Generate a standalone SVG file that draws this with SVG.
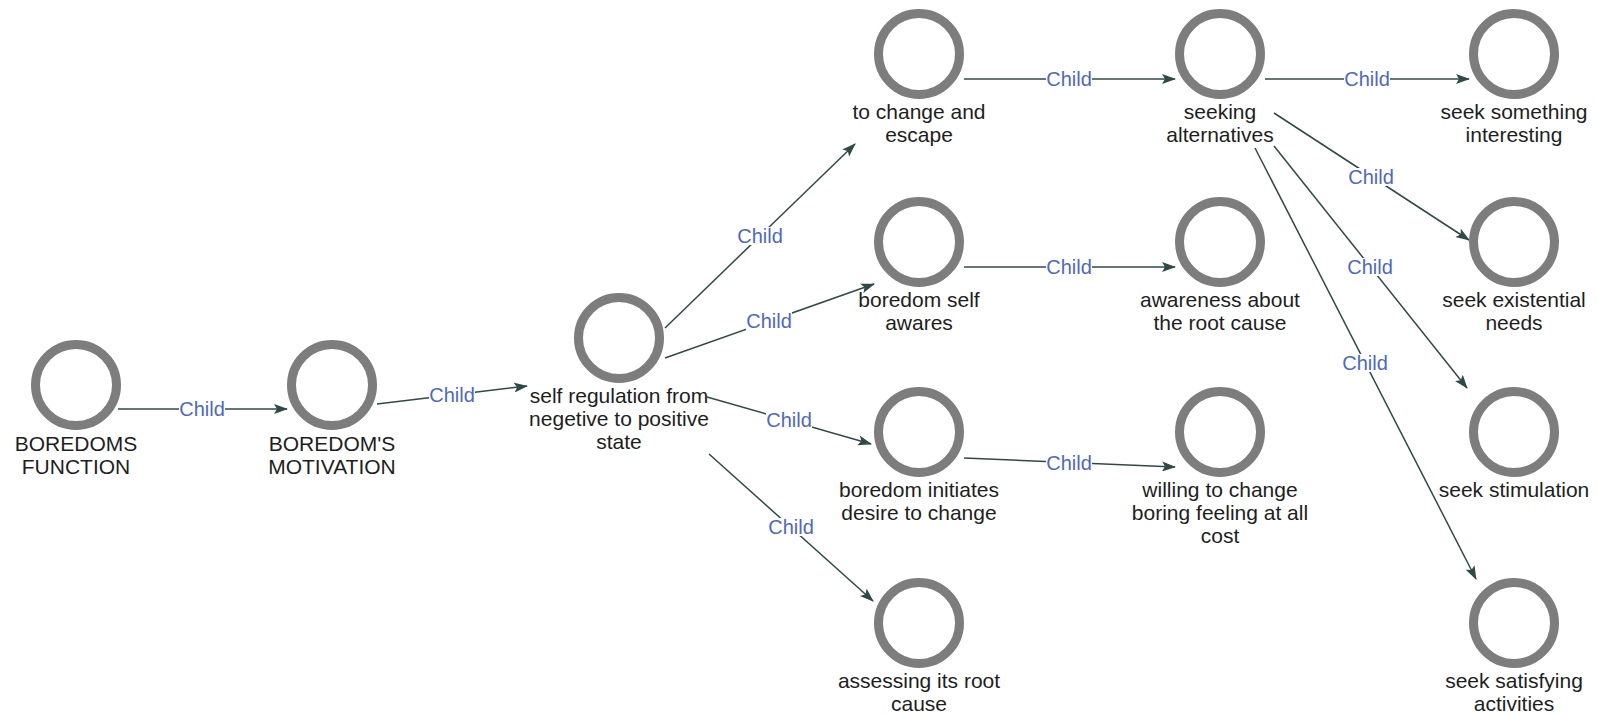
<svg xmlns="http://www.w3.org/2000/svg" width="1598" height="717" viewBox="0 0 1598 717">
  <defs>
    <style>
      .ring { fill: #ffffff; stroke: #7d7d7d; stroke-width: 9; }
      .label { font-family: "Liberation Sans", Arial, sans-serif; font-size: 21px; fill: #1e1e1e; text-anchor: middle; }
      .edge { stroke: #2e4a48; stroke-width: 1.5; fill: none; marker-end: url(#arrow); }
      .tag-bg { fill: #ffffff; }
      .tag { font-family: "Liberation Sans", Arial, sans-serif; font-size: 20px; fill: #4f68bf; text-anchor: middle; }
    </style>
    <marker id="arrow" viewBox="0 0 14 10" refX="13" refY="5" markerWidth="14" markerHeight="10" markerUnits="userSpaceOnUse" orient="auto">
      <path d="M0,0 L14,5 L0,10 L3,5 Z" fill="#2e4a48"/>
    </marker>
  </defs>
  <rect width="1598" height="717" fill="#ffffff"/>

  <!-- connectors -->
  <g id="connectors">
    <line class="edge" x1="118" y1="409" x2="287" y2="409"/>
    <line class="edge" x1="377" y1="404" x2="527" y2="386"/>
    <line class="edge" x1="665" y1="328" x2="855" y2="144"/>
    <line class="edge" x1="665" y1="358" x2="874" y2="284"/>
    <line class="edge" x1="707" y1="397" x2="871" y2="444"/>
    <line class="edge" x1="709" y1="454" x2="873" y2="601"/>
    <line class="edge" x1="964" y1="79" x2="1175" y2="79"/>
    <line class="edge" x1="1265" y1="79" x2="1469" y2="79"/>
    <line class="edge" x1="964" y1="267" x2="1175" y2="267"/>
    <line class="edge" x1="964" y1="458" x2="1175" y2="467"/>
    <line class="edge" x1="1274" y1="113" x2="1469" y2="240"/>
    <line class="edge" x1="1274" y1="146" x2="1467" y2="388"/>
    <line class="edge" x1="1255" y1="148" x2="1476" y2="579"/>

    <g id="edge-labels">
      <rect class="tag-bg" x="179" y="400" width="46" height="18"/><text class="tag" x="202" y="416">Child</text>
      <rect class="tag-bg" x="429" y="386" width="46" height="18"/><text class="tag" x="452" y="402">Child</text>
      <rect class="tag-bg" x="737" y="227" width="46" height="18"/><text class="tag" x="760" y="243">Child</text>
      <rect class="tag-bg" x="746" y="312" width="46" height="18"/><text class="tag" x="769" y="328">Child</text>
      <rect class="tag-bg" x="766" y="411" width="46" height="18"/><text class="tag" x="789" y="427">Child</text>
      <rect class="tag-bg" x="768" y="518" width="46" height="18"/><text class="tag" x="791" y="534">Child</text>
      <rect class="tag-bg" x="1046" y="70" width="46" height="18"/><text class="tag" x="1069" y="86">Child</text>
      <rect class="tag-bg" x="1344" y="70" width="46" height="18"/><text class="tag" x="1367" y="86">Child</text>
      <rect class="tag-bg" x="1046" y="258" width="46" height="18"/><text class="tag" x="1069" y="274">Child</text>
      <rect class="tag-bg" x="1046" y="454" width="46" height="18"/><text class="tag" x="1069" y="470">Child</text>
      <rect class="tag-bg" x="1348" y="168" width="46" height="18"/><text class="tag" x="1371" y="184">Child</text>
      <rect class="tag-bg" x="1347" y="258" width="46" height="18"/><text class="tag" x="1370" y="274">Child</text>
      <rect class="tag-bg" x="1342" y="354" width="46" height="18"/><text class="tag" x="1365" y="370">Child</text>
    </g>
  </g>

  <!-- nodes -->
  <g id="boredoms-function">
    <circle class="ring" cx="76" cy="385" r="40.5"/>
    <text class="label" x="76" y="451">BOREDOMS</text>
    <text class="label" x="76" y="474">FUNCTION</text>
  </g>
  <g id="boredoms-motivation">
    <circle class="ring" cx="332" cy="385" r="40.5"/>
    <text class="label" x="332" y="451">BOREDOM'S</text>
    <text class="label" x="332" y="474">MOTIVATION</text>
  </g>
  <g id="self-regulation">
    <circle class="ring" cx="619" cy="338" r="40.5"/>
    <text class="label" x="619" y="403">self regulation from</text>
    <text class="label" x="619" y="426">negetive to positive</text>
    <text class="label" x="619" y="449">state</text>
  </g>
  <g id="change-and-escape">
    <circle class="ring" cx="919" cy="54" r="40.5"/>
    <text class="label" x="919" y="119">to change and</text>
    <text class="label" x="919" y="142">escape</text>
  </g>
  <g id="seeking-alternatives">
    <circle class="ring" cx="1220" cy="54" r="40.5"/>
    <text class="label" x="1220" y="119">seeking</text>
    <text class="label" x="1220" y="142">alternatives</text>
  </g>
  <g id="seek-interesting">
    <circle class="ring" cx="1514" cy="54" r="40.5"/>
    <text class="label" x="1514" y="119">seek something</text>
    <text class="label" x="1514" y="142">interesting</text>
  </g>
  <g id="self-awares">
    <circle class="ring" cx="919" cy="242" r="40.5"/>
    <text class="label" x="919" y="307">boredom self</text>
    <text class="label" x="919" y="330">awares</text>
  </g>
  <g id="awareness-root-cause">
    <circle class="ring" cx="1220" cy="242" r="40.5"/>
    <text class="label" x="1220" y="307">awareness about</text>
    <text class="label" x="1220" y="330">the root cause</text>
  </g>
  <g id="seek-existential">
    <circle class="ring" cx="1514" cy="242" r="40.5"/>
    <text class="label" x="1514" y="307">seek existential</text>
    <text class="label" x="1514" y="330">needs</text>
  </g>
  <g id="initiates-desire">
    <circle class="ring" cx="919" cy="432" r="40.5"/>
    <text class="label" x="919" y="497">boredom initiates</text>
    <text class="label" x="919" y="520">desire to change</text>
  </g>
  <g id="willing-to-change">
    <circle class="ring" cx="1220" cy="432" r="40.5"/>
    <text class="label" x="1220" y="497">willing to change</text>
    <text class="label" x="1220" y="520">boring feeling at all</text>
    <text class="label" x="1220" y="543">cost</text>
  </g>
  <g id="seek-stimulation">
    <circle class="ring" cx="1514" cy="432" r="40.5"/>
    <text class="label" x="1514" y="497">seek stimulation</text>
  </g>
  <g id="assessing-root-cause">
    <circle class="ring" cx="919" cy="623" r="40.5"/>
    <text class="label" x="919" y="688">assessing its root</text>
    <text class="label" x="919" y="711">cause</text>
  </g>
  <g id="seek-satisfying">
    <circle class="ring" cx="1514" cy="623" r="40.5"/>
    <text class="label" x="1514" y="688">seek satisfying</text>
    <text class="label" x="1514" y="711">activities</text>
  </g>
</svg>
